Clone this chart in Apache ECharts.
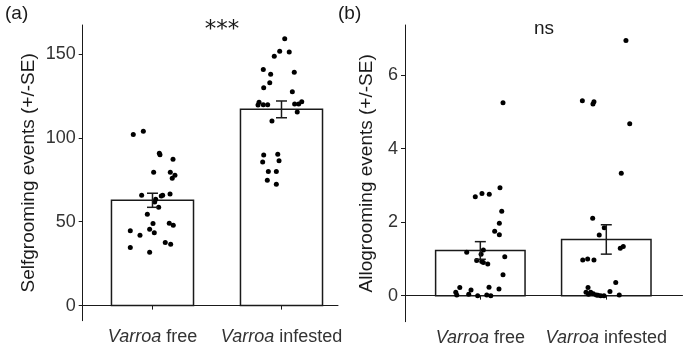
<!DOCTYPE html>
<html>
<head>
<meta charset="utf-8">
<script src="https://cdn.jsdelivr.net/npm/echarts@6.0.0/dist/echarts.min.js"></script>
<style>
  html, body { margin: 0; padding: 0; background: #fff; }
  #main { width: 685px; height: 347px; }
</style>
</head>
<body>
<div id="main"></div>
<script>
// categories / tick labels
const groups = ["free", "infested"];
const ticksSelf = [0, 50, 100, 150];
const ticksAllo = [0, 2, 4, 6];

// bar means and standard errors
const selfMean = [62.8, 117.0];
const selfSE = [4.2, 5.0];
const alloMean = [1.23, 1.53];
const alloSE = [0.24, 0.40];

// individual bees: [jitter offset from group centre, value]
const selfFree = [
  [-0.149, 102.0], [-0.071, 104.0], [0.053, 90.8], [0.058, 90.0], [0.159, 87.2],
  [0.009, 79.5], [0.138, 79.5], [0.174, 77.7], [0.153, 75.9], [-0.084, 65.8],
  [0.068, 65.4], [0.079, 65.8], [0.136, 66.6], [0.025, 63.4], [0.017, 61.8],
  [0.048, 58.6], [-0.040, 54.5], [0.004, 48.9], [0.130, 49.1], [0.161, 47.9],
  [-0.172, 44.7], [-0.022, 45.5], [0.014, 43.5], [-0.097, 42.0], [0.099, 37.6],
  [0.141, 36.6], [-0.172, 34.6], [-0.022, 31.8]
];
const selfInf = [
  [0.025, 159.1], [-0.014, 151.6], [0.060, 151.2], [-0.056, 148.6], [-0.141, 140.8],
  [-0.084, 137.9], [0.099, 139.1], [-0.091, 132.9], [-0.138, 129.9], [0.084, 127.5],
  [-0.174, 121.2], [-0.182, 119.6], [-0.141, 119.8], [-0.107, 119.8], [0.102, 120.2],
  [0.133, 120.2], [0.157, 121.6], [0.122, 115.4], [-0.074, 110.1], [-0.138, 89.8],
  [-0.029, 90.2], [-0.146, 85.6], [-0.019, 86.4], [-0.102, 79.9], [-0.040, 79.9],
  [-0.110, 74.7], [-0.040, 72.3]
];
const alloFree = [
  [-0.040, 2.69], [0.013, 2.78], [0.071, 2.76], [0.156, 2.94], [0.170, 2.30],
  [0.151, 1.97], [0.114, 1.75], [0.151, 1.66], [0.180, 5.25], [-0.108, 1.18],
  [0.024, 1.24], [0.006, 1.13], [-0.029, 0.96], [0.011, 0.93], [0.024, 0.90],
  [0.059, 0.86], [0.194, 1.06], [0.180, 0.57], [-0.163, 0.22], [-0.074, 0.15],
  [0.069, 0.23], [0.148, 0.18], [-0.195, 0.09], [-0.187, 0.02], [-0.092, 0.04],
  [-0.021, 0.00], [0.051, 0.02], [0.083, 0.00]
];
const alloInf = [
  [0.156, 6.95], [-0.190, 5.31], [-0.106, 5.22], [-0.098, 5.28], [0.186, 4.68],
  [0.119, 3.33], [-0.108, 2.11], [-0.016, 1.85], [-0.056, 1.65], [0.111, 1.29],
  [0.135, 1.34], [-0.187, 0.97], [-0.148, 1.00], [-0.098, 0.97], [0.075, 0.36],
  [-0.145, 0.22], [-0.161, 0.09], [-0.124, 0.09], [-0.103, 0.05], [-0.079, 0.02],
  [-0.044, 0.00], [-0.018, 0.00], [0.029, 0.11], [0.103, 0.02], [-0.066, 0.01],
  [-0.141, 0.04]
];

const FONT = "'Liberation Sans', Arial, sans-serif";
const INK = "#1a1a1a";

function place(points, groupIdx) {
  return points.map(p => [groupIdx + 1 + p[0], p[1]]);
}

function xAxisFor(idx, min, max) {
  return {
    type: "value", gridIndex: idx, min: min, max: max,
    splitLine: { show: false },
    axisLine: { lineStyle: { color: INK, width: 1 } },
    axisTick: { length: 4, lineStyle: { color: INK }, customValues: [1, 2] },
    axisLabel: {
      customValues: [1, 2], margin: 7, color: "#333",
      fontFamily: FONT, fontSize: 18,
      formatter: v => "{i|Varroa} " + groups[Math.round(v) - 1],
      rich: { i: { fontStyle: "italic", fontFamily: FONT, fontSize: 18, color: "#333" } }
    }
  };
}

function yAxisFor(idx, min, max, ticks, name, gap) {
  return {
    type: "value", gridIndex: idx, min: min, max: max,
    name: name, nameLocation: "middle", nameGap: gap,
    nameTextStyle: { fontFamily: FONT, fontSize: 19, color: INK },
    splitLine: { show: false },
    axisLine: { show: true, lineStyle: { color: INK, width: 1 } },
    axisTick: { show: true, length: 4, lineStyle: { color: INK }, customValues: ticks },
    axisLabel: { customValues: ticks, margin: 7, color: "#333", fontFamily: FONT, fontSize: 18 }
  };
}

function barSeries(idx, means, width) {
  return {
    type: "custom", xAxisIndex: idx, yAxisIndex: idx, z: 1,
    data: means.map((m, i) => [i + 1, m]),
    renderItem: (params, api) => {
      const x = api.value(0), v = api.value(1);
      const a = api.coord([x - width / 2, v]);
      const b = api.coord([x + width / 2, 0]);
      return {
        type: "rect",
        shape: { x: a[0], y: a[1], width: b[0] - a[0], height: b[1] - a[1] },
        style: { fill: "#fff", stroke: INK, lineWidth: 1.5 }
      };
    }
  };
}

function errSeries(idx, means, ses) {
  return {
    type: "custom", xAxisIndex: idx, yAxisIndex: idx, z: 3,
    data: means.map((m, i) => [i + 1, m, ses[i]]),
    renderItem: (params, api) => {
      const x = api.value(0), m = api.value(1), se = api.value(2);
      const top = api.coord([x, m + se]);
      const bot = api.coord([x, m - se]);
      const half = 5.5;
      const st = { stroke: INK, lineWidth: 1.5 };
      return {
        type: "group",
        children: [
          { type: "line", shape: { x1: top[0], y1: top[1], x2: bot[0], y2: bot[1] }, style: st },
          { type: "line", shape: { x1: top[0] - half, y1: top[1], x2: top[0] + half, y2: top[1] }, style: st },
          { type: "line", shape: { x1: bot[0] - half, y1: bot[1], x2: bot[0] + half, y2: bot[1] }, style: st }
        ]
      };
    }
  };
}

function dots(idx, pts) {
  return {
    type: "scatter", xAxisIndex: idx, yAxisIndex: idx, z: 2,
    symbolSize: 5, itemStyle: { color: "#000", opacity: 1 },
    data: pts, silent: true
  };
}

const chart = echarts.init(document.getElementById("main"));
chart.setOption({
  animation: false,
  title: [
    { text: "(a)", left: 0, top: -1, textStyle: { fontFamily: FONT, fontSize: 19, fontWeight: "normal", color: INK } },
    { text: "(b)", left: 333, top: -1, textStyle: { fontFamily: FONT, fontSize: 19, fontWeight: "normal", color: INK } },
    { text: "***", left: 217, top: 14, textAlign: "center", textStyle: { fontFamily: "'DejaVu Sans', sans-serif", fontSize: 23, fontWeight: "normal", color: INK } },
    { text: "ns", left: 539, top: 14, textAlign: "center", textStyle: { fontFamily: FONT, fontSize: 19, fontWeight: "normal", color: INK } }
  ],
  grid: [
    { left: 82.7, top: 25, width: 255.3, height: 295.7 },
    { left: 405, top: 25, width: 277.5, height: 296.7 }
  ],
  xAxis: [xAxisFor(0, 0.459, 2.438), xAxisFor(1, 0.402, 2.605)],
  yAxis: [
    yAxisFor(0, -9, 167.3, ticksSelf, "Selfgrooming events (+/-SE)", 44),
    yAxisFor(1, -0.71, 7.37, ticksAllo, "Allogrooming events (+/-SE)", 29)
  ],
  series: [
    barSeries(0, selfMean, 0.636),
    dots(0, place(selfFree, 0).concat(place(selfInf, 1))),
    errSeries(0, selfMean, selfSE),
    barSeries(1, alloMean, 0.71),
    dots(1, place(alloFree, 0).concat(place(alloInf, 1))),
    errSeries(1, alloMean, alloSE)
  ]
});
</script>
</body>
</html>
